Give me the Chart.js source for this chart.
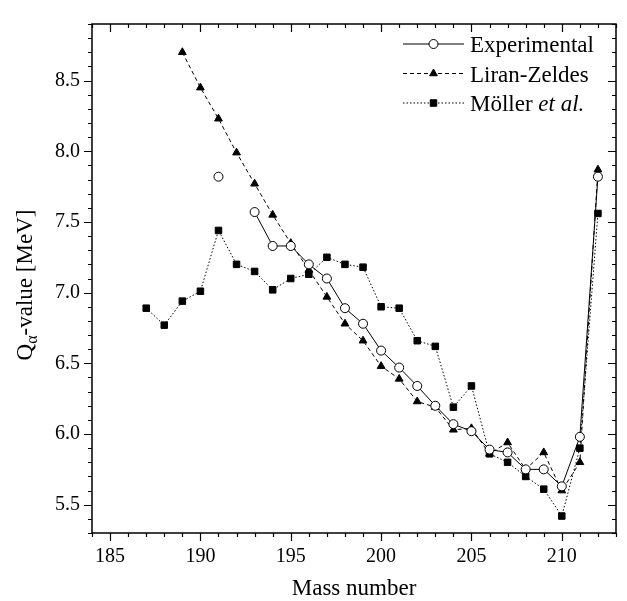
<!DOCTYPE html>
<html>
<head>
<meta charset="utf-8">
<script src="https://cdn.jsdelivr.net/npm/chart.js@4.4.1/dist/chart.umd.min.js"></script>
<style>
    body { margin: 0; background: #fff; }
</style>
</head>
<body>
<canvas id="qChart" width="627" height="601"></canvas>
<script>
// mass numbers and Q-alpha values (MeV), null where a series has no point
const massNumbers = [187, 188, 189, 190, 191, 192, 193, 194, 195, 196, 197, 198, 199,
                     200, 201, 202, 203, 204, 205, 206, 207, 208, 209, 210, 211, 212];
const experimental = [null, null, null, null, 7.82, null, 7.57, 7.33, 7.33, 7.20, 7.10, 6.89, 6.78,
                      6.59, 6.47, 6.34, 6.20, 6.07, 6.02, 5.89, 5.87, 5.75, 5.75, 5.63, 5.98, 7.82];
const liranZeldes = [null, null, 8.70, 8.45, 8.23, 7.99, 7.77, 7.55, 7.35, 7.16, 6.97, 6.78, 6.66,
                     6.48, 6.39, 6.23, 6.19, 6.03, 6.04, 5.86, 5.94, 5.75, 5.87, 5.60, 5.80, 7.87];
const moller = [6.89, 6.77, 6.94, 7.01, 7.44, 7.20, 7.15, 7.02, 7.10, 7.13, 7.25, 7.20, 7.18,
                6.90, 6.89, 6.66, 6.62, 6.19, 6.34, 5.86, 5.80, 5.70, 5.61, 5.42, 5.90, 7.56];

const xMajorTicks = [185, 190, 195, 200, 205, 210];
const yMajorTicks = [5.5, 6.0, 6.5, 7.0, 7.5, 8.0, 8.5];

const serif = "'Liberation Serif', 'Times New Roman', serif";

function toPoints(values) {
    return massNumbers.map((m, i) => ({ x: m, y: values[i] }));
}

// frame, inward/outward ticks, axis titles and the legend
const framePlugin = {
    id: 'framePlugin',
    afterDraw(chart) {
        const ctx = chart.ctx;
        const a = chart.chartArea;
        const xs = chart.scales.x;
        const ys = chart.scales.y;
        ctx.save();
        ctx.strokeStyle = '#000';
        ctx.lineWidth = 1.5;
        ctx.strokeRect(a.left, a.top, a.right - a.left, a.bottom - a.top);

        ctx.lineWidth = 1.2;
        ctx.beginPath();
        for (let m = xs.min; m <= xs.max; m++) {
            const px = Math.round(xs.getPixelForValue(m)) + 0.5;
            const len = xMajorTicks.includes(m) ? 8 : 4;
            ctx.moveTo(px, a.bottom); ctx.lineTo(px, a.bottom + len);
            ctx.moveTo(px, a.top); ctx.lineTo(px, a.top + len);
        }
        const nY = Math.round((ys.max - ys.min) * 10);
        for (let i = 0; i <= nY; i++) {
            const v = ys.min + i / 10;
            const py = Math.round(ys.getPixelForValue(v)) + 0.5;
            const major = yMajorTicks.some(t => Math.abs(t - v) < 1e-6);
            const len = major ? 8 : 4;
            ctx.moveTo(a.left, py); ctx.lineTo(a.left - len, py);
            ctx.moveTo(a.right, py); ctx.lineTo(a.right - len, py);
        }
        ctx.stroke();

        // x title
        ctx.fillStyle = '#000';
        ctx.font = '23px ' + serif;
        ctx.textAlign = 'center';
        ctx.textBaseline = 'alphabetic';
        ctx.fillText('Mass number', (a.left + a.right) / 2, 595);

        // y title with subscript alpha
        ctx.save();
        ctx.translate(32, 285);
        ctx.rotate(-Math.PI / 2);
        ctx.textAlign = 'left';
        const big = '23px ' + serif, small = '16px ' + serif;
        ctx.font = big;
        const wQ = ctx.measureText('Q').width;
        const wRest = ctx.measureText('-value [MeV]').width;
        ctx.font = small;
        const wA = ctx.measureText('\u03b1').width;
        let x0 = -(wQ + wA + wRest) / 2;
        ctx.font = big;
        ctx.fillText('Q', x0, 0);
        ctx.font = small;
        ctx.fillText('\u03b1', x0 + wQ, 5);
        ctx.font = big;
        ctx.fillText('-value [MeV]', x0 + wQ + wA, 0);
        ctx.restore();

        // legend
        const rows = [
            { ds: chart.data.datasets[0], parts: [['Experimental', '']] },
            { ds: chart.data.datasets[1], parts: [['Liran-Zeldes', '']] },
            { ds: chart.data.datasets[2], parts: [['M\u00f6ller ', ''], ['et al.', 'italic ']] }
        ];
        rows.forEach((row, i) => {
            const yb = 52 + i * 29.5;
            const yc = yb - 8;
            const ds = row.ds;
            ctx.save();
            ctx.strokeStyle = ds.borderColor;
            ctx.lineWidth = ds.borderWidth;
            ctx.setLineDash(ds.borderDash || []);
            ctx.beginPath();
            ctx.moveTo(403, yc);
            ctx.lineTo(464, yc);
            ctx.stroke();
            ctx.setLineDash([]);
            ctx.fillStyle = ds.pointBackgroundColor;
            ctx.strokeStyle = ds.pointBorderColor;
            ctx.lineWidth = ds.pointBorderWidth;
            Chart.helpers.drawPoint(ctx, {
                pointStyle: ds.pointStyle,
                radius: ds.pointRadius,
                rotation: 0,
                borderWidth: ds.pointBorderWidth
            }, 433.5, yc);
            ctx.restore();
            let tx = 470;
            ctx.textAlign = 'left';
            row.parts.forEach(p => {
                ctx.font = p[1] + '23px ' + serif;
                ctx.fillText(p[0], tx, yb);
                tx += ctx.measureText(p[0]).width;
            });
        });
        ctx.restore();
    }
};

const chart = new Chart(document.getElementById('qChart'), {
    type: 'line',
    data: {
        datasets: [{
            label: 'Experimental',
            data: toPoints(experimental),
            borderColor: '#000',
            borderWidth: 1,
            pointStyle: 'circle',
            pointRadius: 4.5,
            pointBackgroundColor: '#fff',
            pointBorderColor: '#000',
            pointBorderWidth: 1,
            spanGaps: false,
            tension: 0
        }, {
            label: 'Liran-Zeldes',
            data: toPoints(liranZeldes),
            borderColor: '#000',
            borderWidth: 1,
            borderDash: [4, 3],
            pointStyle: 'triangle',
            pointRadius: 4.5,
            pointBackgroundColor: '#000',
            pointBorderColor: '#000',
            pointBorderWidth: 1,
            tension: 0
        }, {
            label: 'Möller et al.',
            data: toPoints(moller),
            borderColor: '#000',
            borderWidth: 1,
            borderDash: [1.5, 2],
            pointStyle: 'rect',
            pointRadius: 4.6,
            pointBackgroundColor: '#000',
            pointBorderColor: '#000',
            pointBorderWidth: 1,
            tension: 0
        }]
    },
    options: {
        responsive: false,
        animation: false,
        devicePixelRatio: 1,
        layout: { padding: { top: 8, right: 11, left: 0, bottom: 0 } },
        plugins: {
            legend: { display: false },
            tooltip: { enabled: false }
        },
        scales: {
            x: {
                type: 'linear',
                position: 'bottom',
                min: 184,
                max: 213,
                afterFit: s => { s.height = 68; },
                afterBuildTicks: s => { s.ticks = xMajorTicks.map(v => ({ value: v })); },
                grid: { display: false, drawTicks: false },
                border: { display: false },
                ticks: {
                    autoSkip: false,
                    maxRotation: 0,
                    padding: 12,
                    color: '#000',
                    font: { family: serif, size: 20 },
                    callback: v => String(v)
                }
            },
            y: {
                type: 'linear',
                min: 5.3,
                max: 8.9,
                afterFit: s => { s.width = 92; },
                afterBuildTicks: s => { s.ticks = yMajorTicks.map(v => ({ value: v })); },
                grid: { display: false, drawTicks: false },
                border: { display: false },
                ticks: {
                    autoSkip: false,
                    padding: 12,
                    color: '#000',
                    font: { family: serif, size: 20 },
                    callback: v => v.toFixed(1)
                }
            }
        }
    },
    plugins: [framePlugin]
});
</script>
</body>
</html>
